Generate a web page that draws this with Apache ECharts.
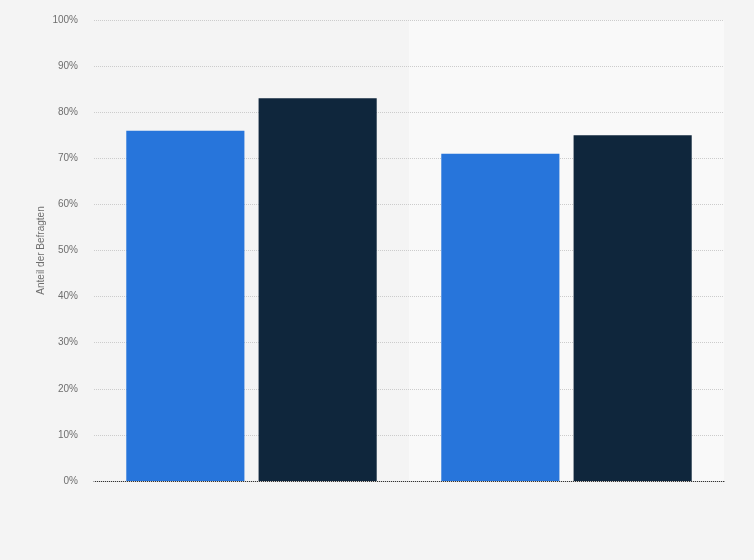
<!DOCTYPE html>
<html>
<head>
  <meta charset="utf-8">
  <title>Anteil der Befragten</title>
  <script src="https://cdn.jsdelivr.net/npm/echarts@6/dist/echarts.min.js"></script>
  <style>
    html, body { margin: 0; padding: 0; background: #f4f4f4; }
    #main { width: 754px; height: 560px; }
  </style>
</head>
<body>
  <div id="main"></div>

  <script>
    const categories = ["Gruppe 1", "Gruppe 2"];
    const serie1 = [76, 71];
    const serie2 = [83, 75];
    const yTicks = [0, 10, 20, 30, 40, 50, 60, 70, 80, 90, 100];

    const chart = echarts.init(document.getElementById("main"));
    const option = {
      backgroundColor: "#f4f4f4",
      animation: false,
      grid: { left: 94, right: 30, top: 20, bottom: 79 },
      xAxis: {
        type: "category",
        data: categories,
        z: 0,
        axisLine: { lineStyle: { color: "#333", width: 1 } },
        axisTick: { show: false },
        axisLabel: { show: false },
        splitArea: { show: true, areaStyle: { color: ["#f4f4f4", "#f9f9f9"] } }
      },
      yAxis: {
        type: "value",
        z: 1,
        min: yTicks[0],
        max: yTicks[yTicks.length - 1],
        interval: 10,
        name: "Anteil der Befragten",
        nameLocation: "middle",
        nameGap: 48,
        nameMoveOverlap: false,
        nameTextStyle: { color: "#6e6e6e", fontSize: 10, fontFamily: "Liberation Sans" },
        axisLine: { show: false },
        axisTick: { show: false },
        axisLabel: {
          color: "#6e6e6e",
          fontSize: 10,
          fontFamily: "Liberation Sans",
          margin: 16,
          formatter: v => v + "%"
        },
        splitLine: { show: true, lineStyle: { color: "#cccccc", width: 1, type: "dotted" } }
      },
      series: [
        {
          name: "Serie 1",
          type: "bar",
          data: serie1,
          barWidth: "37.5%",
          barGap: "12%",
          z: 3,
          itemStyle: { color: "#2775db" }
        },
        {
          name: "Serie 2",
          type: "bar",
          data: serie2,
          barWidth: "37.5%",
          barGap: "12%",
          z: 3,
          itemStyle: { color: "#0f263c" }
        }
      ]
    };
    chart.setOption(option);
  </script>
</body>
</html>
